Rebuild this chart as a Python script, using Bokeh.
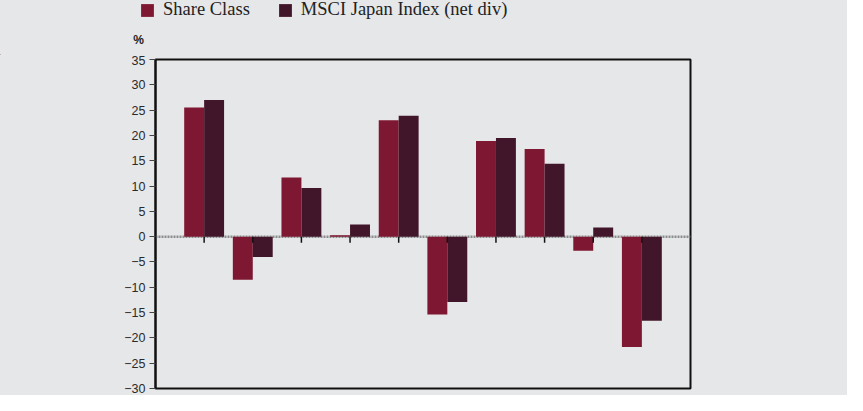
import numpy as np
from bokeh.plotting import figure
from bokeh.layouts import column
from bokeh.models import (Range1d, FixedTicker, Span, Label, Legend, LegendItem,
                          ColumnDataSource)
from bokeh.embed import file_html
from bokeh.resources import INLINE

# ---- data ----
periods = [1, 2, 3, 4, 5, 6, 7, 8, 9, 10]
share_class = [25.5, -8.5, 11.7, 0.3, 23.0, -15.4, 18.9, 17.3, -2.8, -21.8]
msci_japan = [27.0, -4.0, 9.6, 2.4, 23.9, -12.9, 19.5, 14.4, 1.8, -16.6]
y_ticks = [-30, -25, -20, -15, -10, -5, 0, 5, 10, 15, 20, 25, 30, 35]
series_names = ["Share Class", "MSCI Japan Index (net div)"]

# ---- styles ----
BG = "#e6e7e9"
C_SHARE = "#7e1731"
C_MSCI = "#42162a"
BAR_W = 0.41
W = 847
TOP_H = 55

# ---- header figure (legend + unit label) ----
top = figure(width=W, height=TOP_H, output_backend="svg", toolbar_location=None,
             x_range=Range1d(0, W), y_range=Range1d(0, TOP_H),
             x_axis_location=None, y_axis_location=None,
             min_border=0)
top.frame_align = False
top.background_fill_color = BG
top.border_fill_color = BG
top.outline_line_color = None
top.grid.visible = False
# legend swatches only (kept outside the visible range)
swatch = ColumnDataSource(dict(x=[-W], top=[1]))
d1 = top.vbar(x="x", top="top", width=1, source=swatch, fill_color=C_SHARE, line_color=None)
d2 = top.vbar(x="x", top="top", width=1, source=swatch, fill_color=C_MSCI, line_color=None)
legend = Legend(items=[LegendItem(label=series_names[0], renderers=[d1]),
                       LegendItem(label=series_names[1], renderers=[d2])],
                orientation="horizontal", location=(139, 35),
                padding=0, margin=0, spacing=27, label_standoff=8,
                glyph_width=16, glyph_height=16, label_height=16,
                border_line_color=None, background_fill_alpha=0,
                label_text_font="Liberation Serif", label_text_font_size="18.5px",
                label_text_color="#222222")
top.add_layout(legend)
pct = Label(x=138, y=TOP_H - 39, text="%", text_font="Liberation Sans",
            text_font_style="bold", text_font_size="12px", text_color="#222222",
            text_align="center", text_baseline="middle")
top.add_layout(pct)

# ---- main chart ----
p = figure(width=W, height=340, output_backend="svg", toolbar_location=None,
           x_range=Range1d(0, 11), y_range=Range1d(-30, 35),
           x_axis_location=None, min_border_left=155, min_border_right=157,
           min_border_top=4, min_border_bottom=7)
p.frame_align = False
p.background_fill_color = BG
p.border_fill_color = BG
p.grid.visible = False
p.outline_line_color = "#111111"
p.outline_line_width = 2

x = np.array(periods, dtype=float)
src = ColumnDataSource(dict(x_share=x - BAR_W / 2, x_msci=x + BAR_W / 2,
                            share=share_class, msci=msci_japan))

zero = Span(location=0, dimension="width", line_color="#8c8c8c",
            line_dash="2 1", line_width=2.5, level="underlay")
p.add_layout(zero)

p.vbar(x="x_share", top="share", bottom=0, width=BAR_W, source=src,
       fill_color=C_SHARE, line_color=None)
p.vbar(x="x_msci", top="msci", bottom=0, width=BAR_W, source=src,
       fill_color=C_MSCI, line_color=None)

# category ticks on the zero line
p.segment(x0=x, y0=[0] * len(x), x1=x, y1=[-1.2] * len(x),
          line_color="#111111", line_width=1.5)

ax = p.yaxis[0]
ax.ticker = FixedTicker(ticks=y_ticks)
ax.axis_line_color = "#111111"
ax.axis_line_width = 2
ax.major_tick_line_color = "#444444"
ax.major_tick_out = 6
ax.major_tick_in = 0
ax.minor_tick_line_color = None
ax.major_label_standoff = 4
ax.major_label_text_font = "Liberation Sans"
ax.major_label_text_font_size = "12.5px"
ax.major_label_text_color = "#2a2a2a"

layout = column(top, p, spacing=0, styles={"background-color": BG})
html = file_html(layout, INLINE)
html = html.replace("<body>", '<body style="background-color:%s;">' % BG, 1)
open("out.html", "w").write(html)
